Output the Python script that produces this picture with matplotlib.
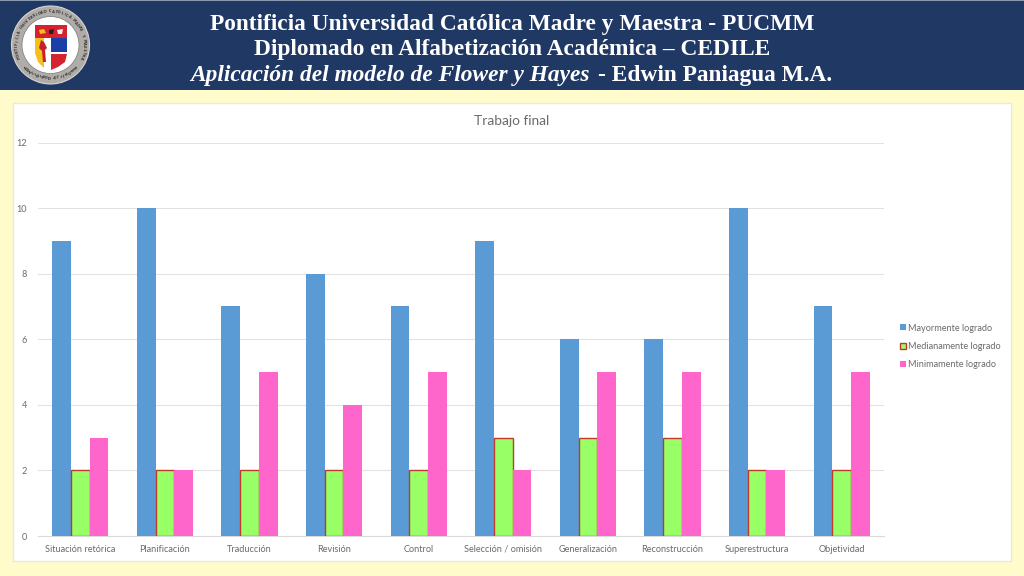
import matplotlib
matplotlib.use("Agg")
import matplotlib.pyplot as plt
from matplotlib.patches import Rectangle, Circle, Polygon
import numpy as np

categories = ["Situación retórica", "Planificación", "Traducción", "Revisión", "Control",
              "Selección / omisión", "Generalización", "Reconstrucción", "Superestructura", "Objetividad"]
mayormente = [9, 10, 7, 8, 7, 9, 6, 6, 10, 7]
medianamente = [2, 2, 2, 2, 2, 3, 3, 3, 2, 2]
minimamente = [3, 2, 5, 4, 5, 2, 5, 5, 2, 5]
y_ticks = [0, 2, 4, 6, 8, 10, 12]
header_lines = ["Pontificia Universidad Católica Madre y Maestra - PUCMM",
                "Diplomado en Alfabetización Académica – CEDILE"]

W, H = 1024, 576
fig = plt.figure(figsize=(W/100, H/100), dpi=100, facecolor="#FFFBCB")

# page layer in pixel coordinates
bg = fig.add_axes([0, 0, 1, 1], zorder=0)
bg.set_xlim(0, W); bg.set_ylim(H, 0); bg.axis("off")
bg.add_patch(Rectangle((0, 0), W, 90, fc="#1F3864", ec="none"))
bg.add_patch(Rectangle((0, 0), W, 1.2, fc="#8A9BB0", ec="none"))
bg.add_patch(Rectangle((13, 103), 998, 458, fc="white", ec="#E9EBD8", lw=1))

# header text
serif = "Liberation Serif"
fs = 16.85
bg.text(512.5, 30, header_lines[0], color="white", family=serif, weight="bold", fontsize=fs, ha="center", va="baseline")
bg.text(512.5, 55.5, header_lines[1], color="white", family=serif, weight="bold", fontsize=fs, ha="center", va="baseline")
bg.text(190, 80.8, "Aplicación del modelo de Flower y Hayes", color="white", family=serif, weight="bold",
        style="italic", fontsize=fs, ha="left", va="baseline")
bg.text(597.5, 80.8, "- Edwin Paniagua M.A.", color="white", family=serif, weight="bold", fontsize=fs, ha="left", va="baseline")

# logo
cx, cy = 50.5, 45
bg.add_patch(Circle((cx, cy), 39, fc="#B0ADA9", ec="#D8D6D2", lw=0.8))
bg.add_patch(Circle((cx, cy), 28.5, fc="white", ec="#777777", lw=0.5))
bg.add_patch(Polygon([(35, 25), (67, 25), (67, 38), (35, 38)], fc="#D4232F", ec="none"))
bg.add_patch(Polygon([(35, 38), (44, 38), (44, 68), (38, 62), (35, 53)], fc="#F2C21A", ec="none"))
bg.add_patch(Polygon([(51, 38), (67, 38), (67, 52), (51, 52)], fc="#1B3FA8", ec="none"))
bg.add_patch(Polygon([(51, 54), (67, 54), (65, 62), (58, 67), (51, 70)], fc="#D4232F", ec="none"))
bg.add_patch(Polygon([(41, 40), (44, 42), (47, 48), (45, 50), (46, 62), (43, 62), (42, 51), (39, 48)], fc="#C8202B", ec="none"))
bg.add_patch(Polygon([(39, 30), (44, 29), (46, 33), (40, 34)], fc="#F2C21A", ec="none"))
bg.add_patch(Polygon([(49, 30), (54, 29), (53, 34), (49, 34)], fc="#222222", ec="none"))
bg.add_patch(Polygon([(57, 30), (63, 29), (62, 34), (58, 34)], fc="#EFEFEF", ec="none"))
ring = "PONTIFICIA UNIVERSIDAD CATÓLICA MADRE Y MAESTRA"
for i, ch in enumerate(ring):
    a = np.deg2rad(-112 + i * 224 / (len(ring) - 1))
    bg.text(cx + 33.5*np.sin(a), cy - 33.5*np.cos(a), ch, fontsize=2.5, color="#333333", ha="center", va="center",
            rotation=-np.rad2deg(a), weight="bold")
ring2 = "REPUBLICA DOMINICANA"
for i, ch in enumerate(ring2):
    a = np.deg2rad(-46 + i * 92 / (len(ring2) - 1))
    bg.text(cx - 33.5*np.sin(a), cy + 33.5*np.cos(a), ch, fontsize=2.5, color="#333333", ha="center", va="center",
            rotation=np.rad2deg(a), weight="bold")

# chart
px_l, px_r, px_t, px_b = 38, 884, 142.5, 536.0
ax = fig.add_axes([px_l/W, 1 - px_b/H, (px_r-px_l)/W, (px_b-px_t)/H], zorder=1, facecolor="none")
x = np.arange(len(categories))
bw = 18.75 / 84.6
ax.bar(x - bw, mayormente, bw, color="#5B9BD5", label="Mayormente logrado", zorder=3)
ax.bar(x, medianamente, bw, color="#99FF66", edgecolor="#C0392B", linewidth=1, label="Medianamente logrado", zorder=3)
ax.bar(x + bw, minimamente, bw, color="#FF66CC", label="Minimamente logrado", zorder=3)
ax.set_xlim(-0.5, len(categories) - 0.5)
ax.set_ylim(0, 12)
ax.set_yticks(y_ticks)
ax.set_xticks(x, categories)
ax.grid(axis="y", color="#E2E2E2", lw=0.8, zorder=0)
ax.set_axisbelow(True)
for s in ["top", "right", "left"]:
    ax.spines[s].set_visible(False)
ax.spines["bottom"].set_color("#D9D9D9")
ax.tick_params(length=0, labelsize=6.6, labelcolor="#6A6A6A")
ax.tick_params(axis="x", pad=11.5)
ax.tick_params(axis="y", pad=8)
for lab in ax.get_xticklabels():
    lab.set_family("Lato")
    lab.set_verticalalignment("baseline")
for lab in ax.get_yticklabels():
    lab.set_family("Lato")
bg.text(511.5, 121, "Trabajo final", family="Lato", fontsize=9.9, color="#6A6A6A", ha="center", va="center")

handles, labels = ax.get_legend_handles_labels()
fig.legend(handles, labels, loc="center left", bbox_to_anchor=(900/W, 1 - 346.5/H), frameon=False,
           prop={"family": "Lato", "size": 6.6}, labelcolor="#6A6A6A", handlelength=0.65, handleheight=0.65,
           handletextpad=0.2, labelspacing=1.03, borderpad=0, borderaxespad=0)

fig.savefig("out.png", dpi=100, facecolor=fig.get_facecolor())
